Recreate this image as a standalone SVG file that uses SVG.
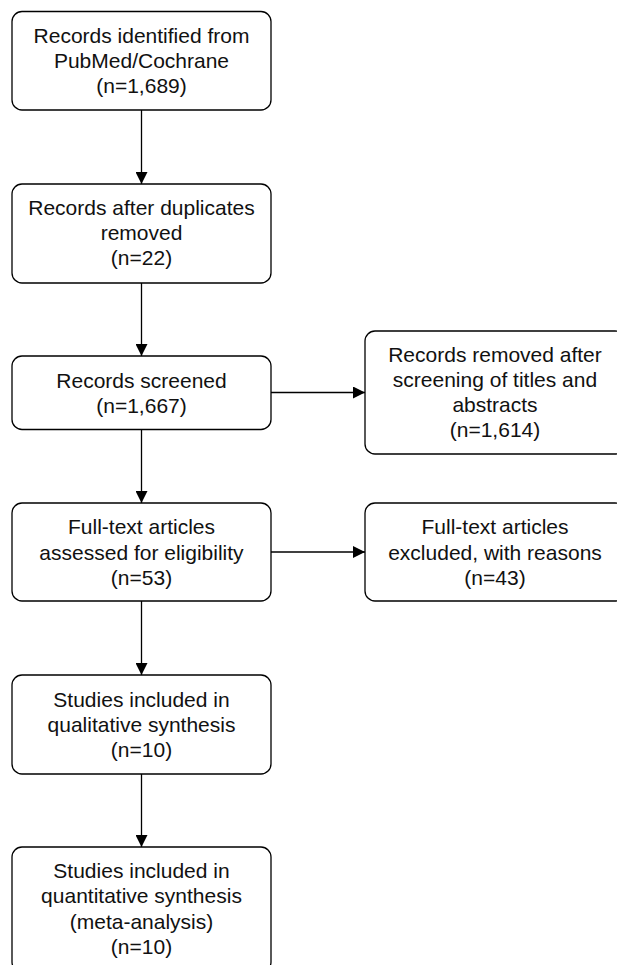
<svg xmlns="http://www.w3.org/2000/svg" width="617" height="965" viewBox="0 0 617 965">
<style>
.box{fill:#ffffff;stroke:#000000;stroke-width:1.3}
.t{font-family:"Liberation Sans",Arial,sans-serif;font-size:21px;fill:#111111;text-anchor:middle}
.c{stroke:#000000;stroke-width:1.3;fill:none}
</style>
<defs>
<marker id="ah" markerWidth="12" markerHeight="12" viewBox="0 0 12 12" refX="12" refY="6" orient="auto" markerUnits="userSpaceOnUse">
<path d="M0,0 L12,6 L0,12 Z" fill="#000000"/>
</marker>
</defs>
<rect width="617" height="965" fill="#ffffff"/>
<g id="connectors">
<line class="c" x1="141.5" y1="110" x2="141.5" y2="184" marker-end="url(#ah)"/>
<line class="c" x1="141.5" y1="283" x2="141.5" y2="356" marker-end="url(#ah)"/>
<line class="c" x1="271" y1="392.5" x2="365" y2="392.5" marker-end="url(#ah)"/>
<line class="c" x1="141.5" y1="429.5" x2="141.5" y2="503" marker-end="url(#ah)"/>
<line class="c" x1="271" y1="552" x2="365" y2="552" marker-end="url(#ah)"/>
<line class="c" x1="141.5" y1="601" x2="141.5" y2="675" marker-end="url(#ah)"/>
<line class="c" x1="141.5" y1="774" x2="141.5" y2="847" marker-end="url(#ah)"/>
</g>
<g id="n1">
<rect class="box" x="12" y="11.5" width="259" height="98.5" rx="10"/>
<text class="t" x="141.5" y="43">Records identified from</text>
<text class="t" x="141.5" y="68">PubMed/Cochrane</text>
<text class="t" x="141.5" y="93">(n=1,689)</text>
</g>
<g id="n2">
<rect class="box" x="12" y="184" width="259" height="99" rx="10"/>
<text class="t" x="141.5" y="215">Records after duplicates</text>
<text class="t" x="141.5" y="240">removed</text>
<text class="t" x="141.5" y="265">(n=22)</text>
</g>
<g id="n3">
<rect class="box" x="12" y="356" width="259" height="73.5" rx="10"/>
<text class="t" x="141.5" y="387.5">Records screened</text>
<text class="t" x="141.5" y="412.5">(n=1,667)</text>
</g>
<g id="r1">
<rect class="box" x="365" y="331" width="260" height="123" rx="10"/>
<text class="t" x="495" y="361.5">Records removed after</text>
<text class="t" x="495" y="386.5">screening of titles and</text>
<text class="t" x="495" y="412">abstracts</text>
<text class="t" x="495" y="437">(n=1,614)</text>
</g>
<g id="n4">
<rect class="box" x="12" y="503" width="259" height="98" rx="10"/>
<text class="t" x="141.5" y="534">Full-text articles</text>
<text class="t" x="141.5" y="559.5">assessed for eligibility</text>
<text class="t" x="141.5" y="585">(n=53)</text>
</g>
<g id="r2">
<rect class="box" x="365" y="503" width="260" height="98" rx="10"/>
<text class="t" x="495" y="534">Full-text articles</text>
<text class="t" x="495" y="559.5">excluded, with reasons</text>
<text class="t" x="495" y="585">(n=43)</text>
</g>
<g id="n5">
<rect class="box" x="12" y="675" width="259" height="99" rx="10"/>
<text class="t" x="141.5" y="707">Studies included in</text>
<text class="t" x="141.5" y="732">qualitative synthesis</text>
<text class="t" x="141.5" y="757">(n=10)</text>
</g>
<g id="n6">
<rect class="box" x="12" y="847" width="259" height="125" rx="10"/>
<text class="t" x="141.5" y="878">Studies included in</text>
<text class="t" x="141.5" y="903">quantitative synthesis</text>
<text class="t" x="141.5" y="928.5">(meta-analysis)</text>
<text class="t" x="141.5" y="953.5">(n=10)</text>
</g>
</svg>
